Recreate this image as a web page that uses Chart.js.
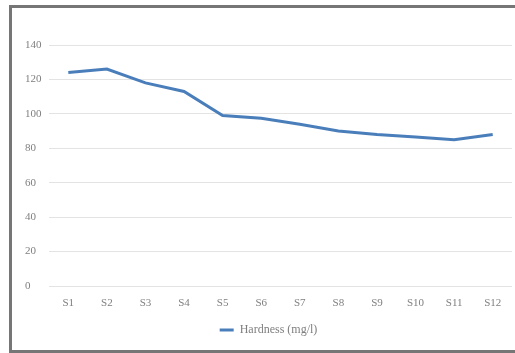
<!DOCTYPE html>
<html lang="en">
<head>
  <meta charset="UTF-8" />
  <title>Hardness</title>
  <script src="https://cdn.jsdelivr.net/npm/chart.js"></script>
  <style>
    html, body { margin: 0; padding: 0; background: #fff; overflow: hidden; }
    .wrap { position: relative; width: 515px; height: 353px; overflow: hidden; }
    /* outer frame, right edge is cropped off in the original */
    .frame {
      position: absolute; left: 9px; top: 5px; width: 506px; height: 348px;
      border: 3px solid #767676; border-right: 0; box-sizing: border-box;
    }
    canvas { position: absolute; left: 0; top: 0; }
  </style>
</head>
<body>
  <div class="wrap">
    <div class="frame"></div>
    <canvas id="chart" width="515" height="353"></canvas>
  </div>

  <script>
    // data
    const sites = ['S1', 'S2', 'S3', 'S4', 'S5', 'S6', 'S7', 'S8', 'S9', 'S10', 'S11', 'S12'];
    const hardness = [124, 126, 118, 113, 99, 97.5, 94, 90, 88, 86.5, 85, 88];
    const seriesName = 'Hardness (mg/l)';

    const fontFam = '"Liberation Serif", "DejaVu Serif", serif';

    const ctx = document.getElementById('chart').getContext('2d');
    new Chart(ctx, {
      type: 'line',
      data: {
        labels: sites,
        datasets: [{
          label: seriesName,
          data: hardness,
          borderColor: '#4a7ebb',
          backgroundColor: '#4a7ebb',
          borderWidth: 3,
          pointRadius: 0,
          tension: 0,
          fill: false
        }]
      },
      options: {
        responsive: false,
        animation: false,
        layout: { padding: { left: 25, top: 45, right: 3, bottom: 7 } },
        scales: {
          x: {
            offset: true,
            grid: { display: false },
            border: { display: false },
            ticks: { color: '#7f7f7f', font: { family: fontFam, size: 11 }, padding: 3, maxRotation: 0 },
            afterFit(scale) { scale.height = 32; }
          },
          y: {
            min: 0,
            max: 140,
            ticks: { stepSize: 20, color: '#7f7f7f', font: { family: fontFam, size: 11 }, crossAlign: 'far', padding: 6 },
            grid: { color: '#e3e3e3', lineWidth: 1, drawTicks: false },
            border: { display: false },
            afterFit(scale) { scale.width = 24; }
          }
        },
        plugins: {
          legend: {
            position: 'bottom',
            labels: {
              color: '#7f7f7f',
              font: { family: fontFam, size: 12 },
              boxWidth: 14,
              boxHeight: 3,
              padding: 6,
              generateLabels(chart) {
                const items = Chart.defaults.plugins.legend.labels.generateLabels(chart);
                items.forEach(it => { it.lineWidth = 0; });
                return items;
              }
            }
          },
          tooltip: { enabled: false }
        }
      }
    });
  </script>
</body>
</html>
